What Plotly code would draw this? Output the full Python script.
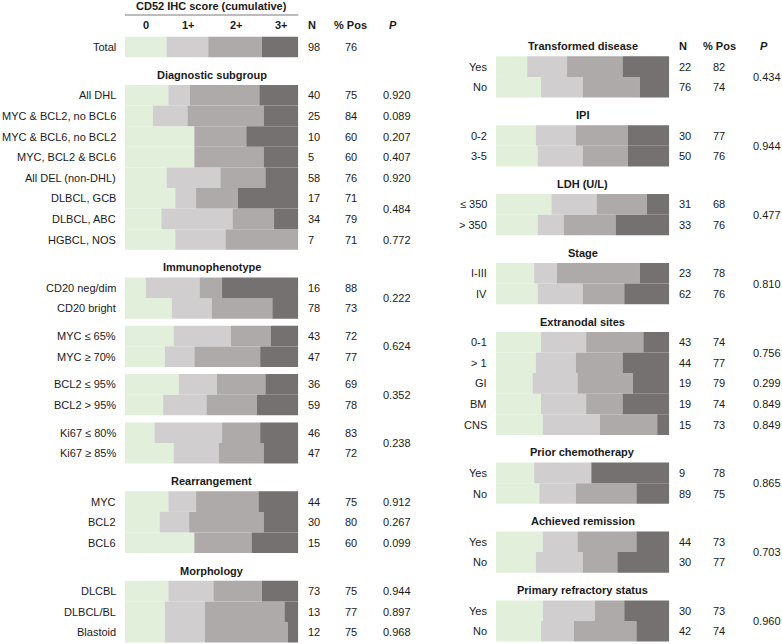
import plotly.graph_objects as go

W, H = 782, 644

# ---- data: left panel ----
left_labels = ["Total",
               "All DHL", "MYC & BCL2, no BCL6", "MYC & BCL6, no BCL2", "MYC, BCL2 & BCL6",
               "All DEL (non-DHL)", "DLBCL, GCB", "DLBCL, ABC", "HGBCL, NOS",
               "CD20 neg/dim", "CD20 bright", "MYC ≤ 65%", "MYC ≥ 70%",
               "BCL2 ≤ 95%", "BCL2 > 95%", "Ki67 ≤ 80%", "Ki67 ≥ 85%",
               "MYC", "BCL2", "BCL6",
               "DLCBL", "DLBCL/BL", "Blastoid"]
left_s0 = [24, 25, 16, 40, 40, 24, 29, 21, 29, 12, 27, 28, 23, 31, 22, 17, 28, 25, 20, 40, 25, 23, 23]
left_s1 = [24, 12.5, 20, 0, 0, 31, 12, 41, 29, 31, 23, 33, 17, 22, 25, 39, 26, 16, 17, 0, 26, 23, 23]
left_s2 = [31, 40, 44, 30, 40, 26, 24, 24, 42, 13, 35, 23, 38, 28, 29, 22, 26, 36, 43, 33, 28, 46, 48]
left_s3 = [21, 22.5, 20, 30, 20, 19, 35, 14, 0, 44, 15, 16, 22, 19, 24, 22, 20, 23, 20, 27, 21, 8, 6]
left_n = [98, 40, 25, 10, 5, 58, 17, 34, 7, 16, 78, 43, 47, 36, 59, 46, 47, 44, 30, 15, 73, 13, 12]
left_pos = [76, 75, 84, 60, 60, 76, 71, 79, 71, 88, 73, 72, 77, 69, 78, 83, 72, 75, 80, 60, 75, 77, 75]
# None = shares the P value of the row above
left_p = ["", "0.920", "0.089", "0.207", "0.407", "0.920", "0.484", None, "0.772",
          "0.222", None, "0.624", None, "0.352", None, "0.238", None,
          "0.912", "0.267", "0.099", "0.944", "0.897", "0.968"]
left_sections = [(None, [1]), ("Diagnostic subgroup", [8]), ("Immunophenotype", [2, 2, 2, 2]),
                 ("Rearrangement", [3]), ("Morphology", [3])]

# ---- data: right panel ----
right_labels = ["Yes", "No", "0-2", "3-5", "≤ 350", "> 350", "I-III", "IV",
                "0-1", "> 1", "GI", "BM", "CNS", "Yes", "No", "Yes", "No", "Yes", "No"]
right_s0 = [18, 26, 23, 24, 32, 24, 22, 24, 26, 23, 21, 26, 27, 22, 25, 27, 23, 27, 26]
right_s1 = [23, 24, 23, 26, 26, 15, 13, 26, 26, 23, 26, 26, 33, 33, 21, 20, 27, 30, 19]
right_s2 = [32, 33, 30, 26, 29, 30, 48, 24, 33, 27, 32, 21, 33, 0, 35, 34, 20, 17, 36]
right_s3 = [27, 17, 24, 24, 13, 31, 17, 26, 15, 27, 21, 27, 7, 45, 19, 19, 30, 26, 19]
right_n = [22, 76, 30, 50, 31, 33, 23, 62, 43, 44, 19, 19, 15, 9, 89, 44, 30, 30, 42]
right_pos = [82, 74, 77, 76, 68, 76, 78, 76, 74, 77, 79, 74, 73, 78, 75, 73, 77, 73, 74]
right_p = ["0.434", None, "0.944", None, "0.477", None, "0.810", None,
           "0.756", None, "0.299", "0.849", "0.849", "0.865", None, "0.703", None, "0.960", None]
right_sections = [("Transformed disease", [2]), ("IPI", [2]), ("LDH (U/L)", [2]), ("Stage", [2]),
                  ("Extranodal sites", [5]), ("Prior chemotherapy", [2]),
                  ("Achieved remission", [2]), ("Primary refractory status", [2])]

score_names = ["0", "1+", "2+", "3+"]
colors = ["#e2efda", "#d0cece", "#aeaaaa", "#767171"]

PITCH = 20.6
GAP = 27.7
FONT = "Liberation Sans, Arial, sans-serif"


def layout_rows(sections, start, start_is_header):
    """pixel y centres for rows and section headers"""
    rows, heads = [], []
    y = start
    first = True
    for head, blocks in sections:
        if head is not None:
            if first and start_is_header:
                hy = y
            else:
                hy = y + GAP
            heads.append((head, hy))
            y = hy + PITCH
        for bi, size in enumerate(blocks):
            if bi > 0:
                y = y + GAP
            for k in range(size):
                if k > 0:
                    y = y + PITCH
                rows.append(y)
        first = False
    return rows, heads


left_y, left_heads = layout_rows(left_sections, 47, False)
right_y, right_heads = layout_rows(right_sections, 46, True)

fig = go.Figure()
for xa, ys, series in [("x", left_y, [left_s0, left_s1, left_s2, left_s3]),
                       ("x2", right_y, [right_s0, right_s1, right_s2, right_s3])]:
    base = [0] * len(ys)
    for i, vals in enumerate(series):
        fig.add_trace(go.Bar(x=vals, y=ys, base=list(base), orientation="h", width=PITCH,
                             marker=dict(color=colors[i], line=dict(width=0)),
                             name=score_names[i], showlegend=False, xaxis=xa, yaxis="y"))
        base = [b + v for b, v in zip(base, vals)]

ann = []


def txt(x, y, s, anchor="center", bold=False, size=11):
    if bold:
        s = "<b>" + s + "</b>"
    ann.append(dict(x=x / W, y=y, xref="paper", yref="y", text=s, showarrow=False,
                    xanchor=anchor, yanchor="middle", font=dict(size=size, color="#1a1a1a", family=FONT)))


def panel_text(labels, ys, n, pos, p, heads, lab_x, bar_mid, n_x, pos_x, p_x):
    for lab, y, nn, pp in zip(labels, ys, n, pos):
        txt(lab_x, y, lab, "right")
        txt(n_x, y, str(nn), "left")
        txt(pos_x, y, str(pp))
    i = 0
    while i < len(p):
        j = i + 1
        while j < len(p) and p[j] is None:
            j += 1
        if p[i]:
            txt(p_x, (ys[i] + ys[j - 1]) / 2, p[i])
        i = j
    for head, hy in heads:
        txt(bar_mid, hy, head, bold=True)


panel_text(left_labels, left_y, left_n, left_pos, left_p, left_heads, 118, 211.6, 305.5, 350.5, 397)
panel_text(right_labels, right_y, right_n, right_pos, right_p, right_heads, 489, 582.7, 676.5, 718.5, 766.5)

# column headers
txt(211.6, 6, "CD52 IHC score (cumulative)", bold=True)
for s, x in zip(score_names, [145.7, 188.3, 236.7, 281.7]):
    txt(x, 25, s, bold=True)
txt(305.5, 25, "N", "left", bold=True)
txt(350.5, 25, "% Pos", bold=True)
txt(393, 25, "<i>P</i>", bold=True)
ry = right_heads[0][1]
txt(676.5, ry, "N", "left", bold=True)
txt(719, ry, "% Pos", bold=True)
txt(764, ry, "<i>P</i>", bold=True)

fig.update_layout(
    width=W, height=H, margin=dict(l=0, r=0, t=0, b=0),
    paper_bgcolor="white", plot_bgcolor="white", barmode="overlay",
    xaxis=dict(domain=[125 / W, 298.3 / W], range=[0, 100], visible=False, fixedrange=True),
    xaxis2=dict(domain=[496 / W, 669.3 / W], range=[0, 100], visible=False, anchor="y", fixedrange=True),
    yaxis=dict(domain=[0, 1], range=[H, 0], visible=False, fixedrange=True),
    annotations=ann,
    shapes=[dict(type="line", xref="paper", yref="y", x0=125 / W, x1=298.3 / W, y0=15, y1=15,
                 line=dict(color="#a6a6a6", width=1.5))],
)

# page body has an 8px default margin; drop it so the figure sits at the window corner
fig.write_html("out.html", config={"displayModeBar": False},
               post_script="document.body.style.margin='0';")
